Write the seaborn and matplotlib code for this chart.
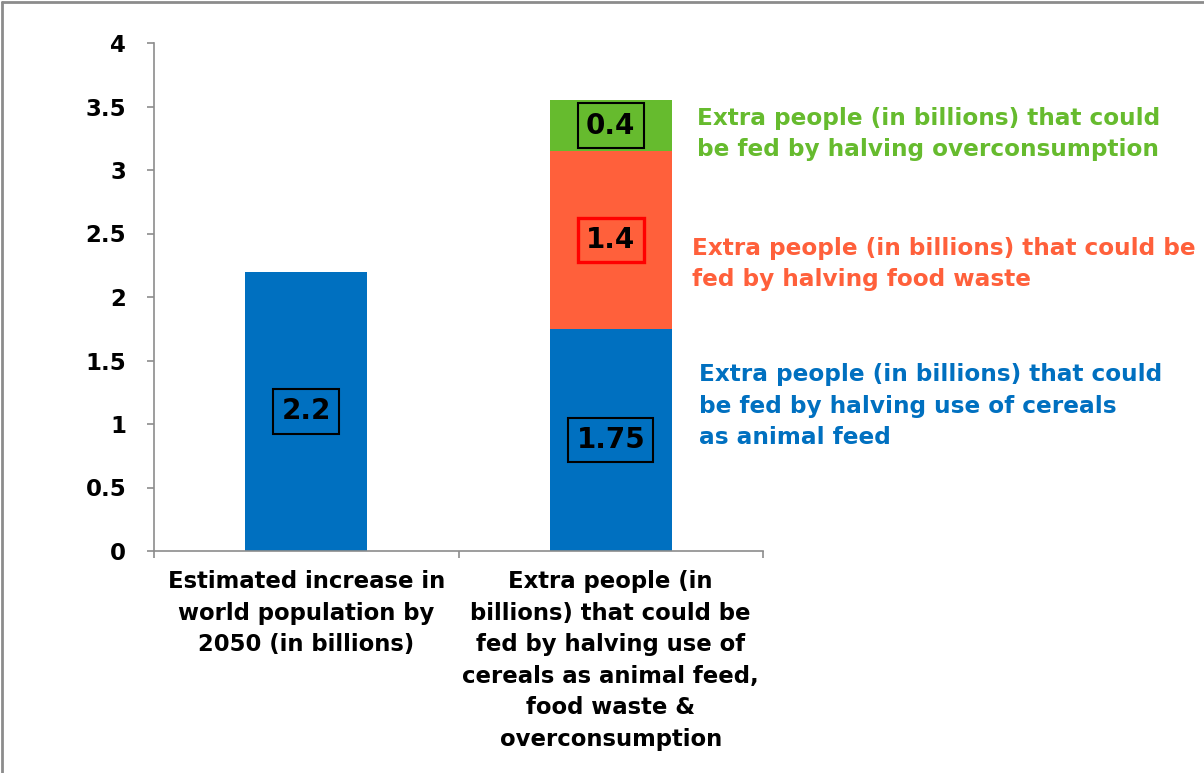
import numpy as np
import pandas as pd
import matplotlib
matplotlib.use("Agg")
import matplotlib.pyplot as plt
import seaborn as sns
from matplotlib.lines import Line2D

sns.set_style("white")
plt.rcParams['font.family'] = ['DejaVu Sans']

categories = ["Estimated increase in\nworld population by\n2050 (in billions)",
              "Extra people (in\nbillions) that could be\nfed by halving use of\ncereals as animal feed,\nfood waste &\noverconsumption"]
cereals = [2.2, 1.75]
waste = [0.0, 1.4]
overcons = [0.0, 0.4]
yticks = [0, 0.5, 1, 1.5, 2, 2.5, 3, 3.5, 4]

c_blue = "#0070C0"
c_orange = "#FF603B"
c_green = "#66BB2E"
c_axis = "#8c8c8c"

fig = plt.figure(figsize=(12.04, 7.73), dpi=100)
ax = fig.add_axes([154/1204, 1-551/773, (763-154)/1204, (551-43)/773])

lvl1 = np.array(cereals)
lvl2 = lvl1 + np.array(waste)
lvl3 = lvl2 + np.array(overcons)

for vals, col in [(lvl3, c_green), (lvl2, c_orange), (lvl1, c_blue)]:
    df = pd.DataFrame({"cat": categories, "val": vals})
    sns.barplot(data=df, x="cat", y="val", color=col, saturation=1, width=0.4,
                ax=ax, errorbar=None, linewidth=0)

ax.set_xlim(-0.5, 1.5)
ax.set_ylim(0, 4)
ax.set_yticks(yticks)
ax.set_yticklabels([f"{v:g}" for v in yticks], fontsize=16.5, fontweight="bold", color="black")
ax.set_xticks([0, 1])
ax.set_xticklabels(categories, fontsize=16.4, fontweight="bold", linespacing=1.47, color="black")
ax.set_xticks([-0.5, 0.5, 1.5], minor=True)
ax.tick_params(axis="x", which="major", bottom=False, length=0, pad=14)
ax.tick_params(axis="x", which="minor", bottom=True, length=5, width=1.2, color=c_axis, direction="out")
ax.tick_params(axis="y", left=True, length=5, width=1.2, color=c_axis, direction="out", pad=15)
ax.set_xlabel("")
ax.set_ylabel("")
for s in ["top", "right"]:
    ax.spines[s].set_visible(False)
for s in ["left", "bottom"]:
    ax.spines[s].set_color(c_axis)
    ax.spines[s].set_linewidth(1.2)

# value labels
def boxed(x, y, txt, ec, lw):
    ax.text(x, y, txt, ha="center", va="center", fontsize=20, fontweight="bold", color="black",
            bbox=dict(boxstyle="square,pad=0.3", fc="none", ec=ec, lw=lw))

boxed(0, cereals[0] / 2, f"{cereals[0]:g}", "black", 1.5)
boxed(1, cereals[1] / 2, f"{cereals[1]:g}", "black", 1.5)
boxed(1, cereals[1] + waste[1] / 2, f"{waste[1]:g}", "#FF0000", 2.4)
boxed(1, lvl2[1] + overcons[1] / 2, f"{overcons[1]:g}", "black", 1.5)

# side annotations
fig.text(697/1204, 1-134/773, "Extra people (in billions) that could\nbe fed by halving overconsumption",
         color=c_green, fontsize=16.7, fontweight="bold", ha="left", va="center", linespacing=1.47)
fig.text(692/1204, 1-264/773, "Extra people (in billions) that could be\nfed by halving food waste",
         color=c_orange, fontsize=16.7, fontweight="bold", ha="left", va="center", linespacing=1.47)
fig.text(699/1204, 1-406/773, "Extra people (in billions) that could\nbe fed by halving use of cereals\nas animal feed",
         color=c_blue, fontsize=16.7, fontweight="bold", ha="left", va="center", linespacing=1.47)

# figure border (top and left visible)
fig.add_artist(Line2D([2/1204, 2/1204], [0, 1-2/773], transform=fig.transFigure, color=c_axis, lw=2))
fig.add_artist(Line2D([2/1204, 1], [1-2/773, 1-2/773], transform=fig.transFigure, color=c_axis, lw=2))

fig.savefig("out.png", dpi=100)
